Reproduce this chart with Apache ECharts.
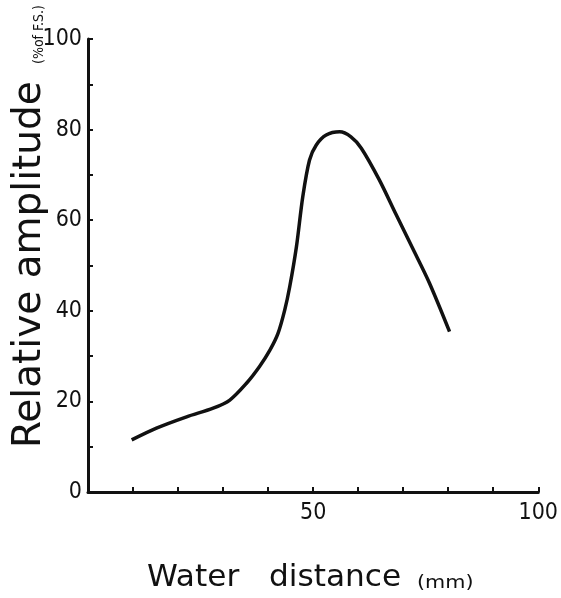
<!DOCTYPE html>
<html>
<head>
<meta charset="utf-8">
<script src="https://cdn.jsdelivr.net/npm/echarts@6/dist/echarts.min.js"></script>
<style>
  html, body { margin: 0; padding: 0; background: #fff; }
  #chart { width: 561px; height: 598px; }
</style>
</head>
<body>
<div id="chart"></div>
<script>
  // water distance (mm)
  const distance = [9.7, 15.2, 21.9, 27.8, 31.5, 35.2, 38.1, 40.4, 42.2, 43.7, 44.8, 46.3, 47.7, 49.2, 50.7, 52.9, 55.9, 58.4, 60.7, 64.7, 68.4, 72.1, 75.8, 80.3]
  // relative amplitude (% of F.S.)
  const amplitude = [11.5, 14.1, 16.6, 18.5, 20.3, 24, 27.7, 31.3, 35, 40.2, 45.3, 54.2, 65.2, 73.3, 76.6, 78.8, 79.5, 78.4, 75.9, 68.9, 61.3, 53.8, 46.2, 35.4]
  const xLabels = [50, 100]
  const yLabels = [0, 20, 40, 60, 80, 100]

  const font = 'DejaVu Sans'
  const tickFont = "'Liberation Sans Narrow', 'DejaVu Sans Condensed'"
  const ink = '#111'

  const chart = echarts.init(document.getElementById('chart'))
  chart.setOption({
    animation: false,
    grid: { left: 88, right: 22, top: 39, bottom: 106 },
    xAxis: {
      type: 'value',
      min: 0,
      max: 100,
      interval: 10,
      axisLine: { show: true, lineStyle: { color: ink, width: 3 } },
      axisTick: { show: true, inside: true, length: 5, lineStyle: { color: ink, width: 2 } },
      splitLine: { show: false },
      axisLabel: {
        margin: 10,
        color: ink,
        fontFamily: tickFont,
        fontSize: 23,
        formatter: (v) => (xLabels.includes(v) ? String(v) : '')
      }
    },
    yAxis: {
      type: 'value',
      min: 0,
      max: 100,
      interval: 10,
      axisLine: { show: true, lineStyle: { color: ink, width: 3 } },
      axisTick: { show: true, inside: true, length: 5, lineStyle: { color: ink, width: 2 } },
      splitLine: { show: false },
      axisLabel: {
        margin: 6,
        color: ink,
        fontFamily: tickFont,
        fontSize: 23,
        formatter: (v) => (yLabels.includes(v) ? String(v) : '')
      }
    },
    series: [
      {
        type: 'line',
        data: distance.map((d, i) => [d, amplitude[i]]),
        smooth: 0.3,
        symbol: 'none',
        lineStyle: { color: ink, width: 3.5 }
      }
    ],
    graphic: [
      // y axis name, rotated
      {
        type: 'text',
        x: 30,
        y: 448,
        rotation: Math.PI / 2,
        style: {
          text: 'Relative amplitude',
          align: 'left',
          verticalAlign: 'middle',
          fontFamily: font,
          fontSize: 39,
          fill: ink
        }
      },
      {
        type: 'text',
        x: 39,
        y: 64,
        rotation: Math.PI / 2,
        style: {
          text: '(%of F.S.)',
          align: 'left',
          verticalAlign: 'middle',
          fontFamily: 'DejaVu Sans Condensed',
          fontSize: 14,
          fill: ink
        }
      },
      // x axis name
      {
        type: 'text',
        x: 147,
        y: 578,
        scaleX: 1.04,
        style: {
          text: 'Water   distance',
          align: 'left',
          verticalAlign: 'middle',
          fontFamily: font,
          fontSize: 30,
          fill: ink
        }
      },
      {
        type: 'text',
        x: 417,
        y: 583,
        scaleX: 1.15,
        style: {
          text: '(mm)',
          align: 'left',
          verticalAlign: 'middle',
          fontFamily: font,
          fontSize: 18,
          fill: ink
        }
      }
    ]
  })
</script>
</body>
</html>
